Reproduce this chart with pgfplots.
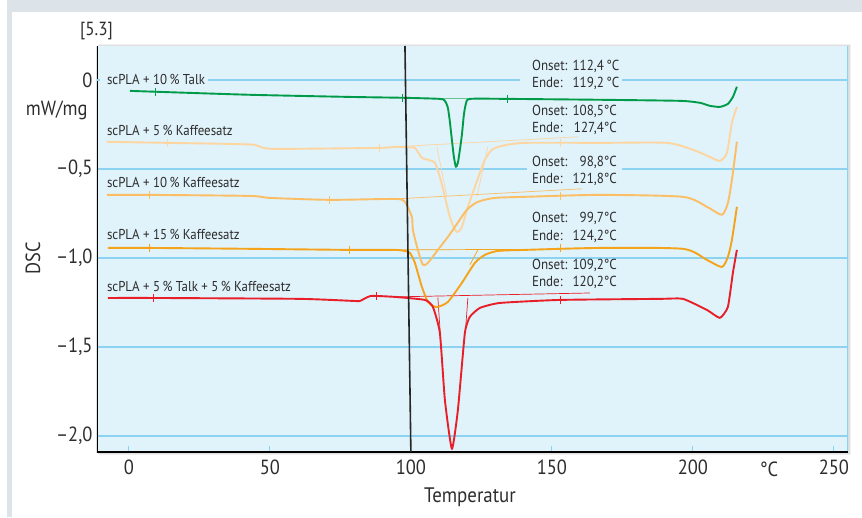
\documentclass[border=0pt]{standalone}
\usepackage{fontspec}
\setmainfont{PT Sans}[FakeStretch=0.9]
\usepackage{pgfplots}
\pgfplotsset{compat=1.18}

\definecolor{bgblue}{RGB}{224,242,250}
\definecolor{gridblue}{RGB}{140,211,242}
\definecolor{cgreen}{RGB}{0,155,72}
\definecolor{cbeige}{RGB}{253,213,160}
\definecolor{cmed}{RGB}{251,190,100}
\definecolor{corange}{RGB}{245,163,26}
\definecolor{cred}{RGB}{232,30,40}
\definecolor{txt}{RGB}{45,45,45}
\definecolor{framegray}{RGB}{220,227,233}

\newcommand{\onset}[2]{\begin{tabular}{@{}l@{\hspace{5pt}}r@{}}Onset: & #1\\ Ende: & #2\end{tabular}}

\begin{document}
\begin{tikzpicture}
\path[use as bounding box] (-97pt,-65pt) rectangle (765pt,452pt);
\fill[framegray] (-90pt,440pt) rectangle (765pt,452pt);
\fill[framegray] (-90pt,-65pt) rectangle (-85pt,440pt);
% soft shadow of the plot area
\fill[black!6] (2pt,-3pt) rectangle (754pt,408pt);
\fill[black!12] (1pt,-1.5pt) rectangle (752.5pt,407pt);
\begin{axis}[
  at={(0pt,0pt)}, anchor=south west,
  scale only axis, width=751pt, height=406pt,
  xmin=-11.3, xmax=255, ymin=-2.09, ymax=0.19,
  axis line style={draw=none},
  axis background/.style={fill=bgblue},
  xtick pos=lower, ytick pos=left,
  xtick={0,50,100,150,200,250},
  xticklabels={0,50,100,150,200,250},
  ytick={-2,-1.5,-1,-0.5,0},
  yticklabels={{–2,0},{–1,5},{–1,0},{–0,5},{0}},
  xtick style={gridblue, line width=1pt},
  ytick style={draw=none},
  tick align=inside,
  major tick length=6pt,
  ticklabel style={font=\fontsize{20.5}{22}\selectfont, text=txt},
  xticklabel style={yshift=-4pt},
  yticklabel style={xshift=-1pt},
]
% horizontal grid
\addplot[gridblue, line width=1.3pt, forget plot] coordinates {(-11.3,-0.5) (255,-0.5)};
\addplot[gridblue, line width=1.3pt, forget plot] coordinates {(-11.3,-1) (255,-1)};
\addplot[gridblue, line width=1.3pt, forget plot] coordinates {(-11.3,-1.5) (255,-1.5)};
\addplot[gridblue, line width=1.3pt, forget plot] coordinates {(-11.3,-2) (255,-2)};
% labels of the series
\node[anchor=west, inner xsep=4pt, text=txt, font=\fontsize{14.3}{16}\selectfont] at (axis cs:-9.22,0.0) {scPLA + 10\,\% Talk};
\node[anchor=west, inner xsep=4pt, text=txt, font=\fontsize{14.3}{16}\selectfont] at (axis cs:-9.22,-0.287) {scPLA + 5\,\% Kaffeesatz};
\node[anchor=west, inner xsep=4pt, text=txt, font=\fontsize{14.3}{16}\selectfont] at (axis cs:-9.22,-0.579) {scPLA + 10\,\% Kaffeesatz};
\node[anchor=west, inner xsep=4pt, text=txt, font=\fontsize{14.3}{16}\selectfont] at (axis cs:-9.22,-0.871) {scPLA + 15\,\% Kaffeesatz};
\node[anchor=west, inner xsep=4pt, text=txt, font=\fontsize{14.3}{16}\selectfont] at (axis cs:-9.22,-1.163) {scPLA + 5\,\% Talk + 5\,\% Kaffeesatz};
% onset / end blocks
\node[anchor=west, inner xsep=5pt, inner ysep=0pt, text=txt, font=\fontsize{14.5}{17.5}\selectfont] at (axis cs:141.13,0.025) {\onset{112,4\,°C}{119,2\,°C}};
\node[anchor=west, inner xsep=5pt, inner ysep=0pt, text=txt, font=\fontsize{14.5}{17.5}\selectfont] at (axis cs:141.13,-0.228) {\onset{108,5°C}{127,4°C}};
\node[anchor=west, fill=bgblue, inner xsep=5pt, inner ysep=0pt, text=txt, font=\fontsize{14.5}{17.5}\selectfont] at (axis cs:141.13,-0.514) {\onset{98,8°C}{121,8°C}};
\node[anchor=west, inner xsep=5pt, inner ysep=0pt, text=txt, font=\fontsize{14.5}{17.5}\selectfont] at (axis cs:141.13,-0.831) {\onset{99,7°C}{124,2°C}};
\node[anchor=west, inner xsep=5pt, inner ysep=0pt, text=txt, font=\fontsize{14.5}{17.5}\selectfont] at (axis cs:141.13,-1.093) {\onset{109,2°C}{120,2°C}};
% frame of the plot area
\draw[gridblue, line width=1.3pt] (rel axis cs:1,0) -- (rel axis cs:1,1);
\draw[black, line width=1.4pt] (rel axis cs:0,1) -- (rel axis cs:0,0) -- (rel axis cs:1,0);

% ---- construction lines (baselines, tangents) ----
\addplot[cgreen!60, line width=0.6pt] coordinates {(110.28,-0.101) (120.92,-0.101)};
\addplot[cbeige, line width=0.7pt] coordinates {(94.33,-0.376) (159.22,-0.320)};
\addplot[cbeige, line width=0.7pt] coordinates {(109.22,-0.376) (112.77,-0.657)};
\addplot[cbeige, line width=0.7pt] coordinates {(127.30,-0.376) (123.40,-0.657)};
\addplot[cmed, line width=0.7pt] coordinates {(94.33,-0.669) (160.64,-0.612)};
\addplot[corange, line width=0.7pt] coordinates {(94.33,-0.955) (140.43,-0.952)};
\addplot[corange, line width=0.7pt] coordinates {(123.76,-0.955) (120.92,-1.039)};
\addplot[cred, line width=0.7pt] coordinates {(94.33,-1.219) (163.48,-1.197)};
\addplot[cred, line width=0.7pt] coordinates {(109.57,-1.222) (110.4,-1.42)};
\addplot[cred, line width=0.7pt] coordinates {(120.21,-1.225) (119.3,-1.42)};

% ---- scPLA + 5 % Kaffeesatz ----
\addplot[cbeige, line width=1.9pt, line join=round, smooth, tension=0.4] coordinates {
(-7.80,-0.348) (13.83,-0.354) (35.82,-0.360) (44.68,-0.365) (47.52,-0.382) (53.55,-0.388)
(89.01,-0.382) (94.33,-0.376) (99.65,-0.379) (101.42,-0.382) (103.90,-0.438) (106.03,-0.449)
(108.51,-0.466) (110.28,-0.545) (112.06,-0.657) (113.83,-0.770) (115.60,-0.843) (116.67,-0.854)
(118.09,-0.826) (120.21,-0.713) (122.70,-0.601) (124.47,-0.522) (126.24,-0.449) (128.72,-0.393)
(132.27,-0.371) (140.43,-0.354) (167.02,-0.354) (190.78,-0.354) (200.00,-0.393) (206.03,-0.433)
(209.57,-0.455) (212.06,-0.410) (213.83,-0.242) (215.60,-0.152)
};
\addplot[cbeige, line width=0.8pt, only marks, mark=|, mark size=4pt] coordinates {
(13.83,-0.354) (89.01,-0.382) (152.84,-0.354)
};
% ---- scPLA + 10 % Kaffeesatz ----
\addplot[cmed, line width=1.9pt, line join=round, smooth, tension=0.4] coordinates {
(-7.80,-0.646) (7.45,-0.646) (42.91,-0.652) (50.00,-0.663) (71.28,-0.674) (94.33,-0.669)
(97.87,-0.685) (100.35,-0.770) (100.71,-0.843) (102.48,-0.955) (104.26,-1.039) (106.03,-1.028)
(109.57,-0.955) (113.12,-0.882) (115.60,-0.826) (119.86,-0.730) (123.76,-0.685) (129.79,-0.663)
(140.43,-0.657) (167.02,-0.646) (196.45,-0.657) (204.96,-0.713) (210.28,-0.758) (212.41,-0.691)
(213.83,-0.562) (215.60,-0.348)
};
\addplot[cmed, line width=0.8pt, only marks, mark=|, mark size=4pt] coordinates {
(7.45,-0.646) (71.28,-0.674) (152.84,-0.652)
};
% ---- scPLA + 15 % Kaffeesatz ----
\addplot[corange, line width=1.9pt, line join=round, smooth, tension=0.4] coordinates {
(-7.45,-0.944) (7.45,-0.944) (42.91,-0.949) (78.37,-0.955) (94.33,-0.955) (97.87,-0.961)
(99.65,-0.972) (101.42,-1.028) (103.90,-1.163) (106.03,-1.247) (107.80,-1.270) (109.57,-1.275)
(113.12,-1.247) (118.09,-1.140) (122.70,-1.028) (126.24,-0.983) (130.85,-0.961) (140.43,-0.955)
(167.02,-0.944) (196.45,-0.949) (204.96,-1.011) (210.28,-1.051) (212.41,-0.994) (213.83,-0.899)
(215.60,-0.713)
};
\addplot[corange, line width=0.8pt, only marks, mark=|, mark size=4pt] coordinates {
(7.45,-0.944) (78.37,-0.955) (152.84,-0.944)
};
% ---- scPLA + 5 % Talk + 5 % Kaffeesatz ----
\addplot[cred, line width=1.9pt, line join=round, smooth, tension=0.3] coordinates {
(-7.45,-1.225) (8.87,-1.225) (60.64,-1.230) (80.14,-1.242) (81.91,-1.242) (84.75,-1.219)
(86.52,-1.213) (94.33,-1.219) (104.96,-1.236) (107.80,-1.275) (110.28,-1.421) (112.06,-1.798)
(114.54,-2.073) (116.67,-1.854) (119.15,-1.421) (120.92,-1.331) (124.47,-1.281) (131.56,-1.253)
(152.84,-1.236) (188.30,-1.230) (196.45,-1.230) (204.96,-1.292) (209.57,-1.337) (212.41,-1.275)
(214.18,-1.084) (215.60,-0.955)
};
\addplot[cred, line width=0.8pt, only marks, mark=|, mark size=4pt] coordinates {
(8.87,-1.225) (87.94,-1.213) (152.84,-1.236)
};
% ---- scPLA + 10 % Talk ----
\addplot[cgreen, line width=1.9pt, line join=round, smooth, tension=0.35] coordinates {
(0.35,-0.062) (9.57,-0.067) (42.91,-0.084) (78.37,-0.096) (97.87,-0.101) (110.28,-0.107)
(112.06,-0.118) (113.12,-0.157) (113.83,-0.236) (114.54,-0.337) (115.25,-0.433) (115.96,-0.489)
(116.67,-0.466) (117.38,-0.393) (118.09,-0.309) (118.79,-0.197) (119.50,-0.135) (120.92,-0.107)
(134.40,-0.107) (167.02,-0.112) (195.39,-0.118) (202.48,-0.129) (206.03,-0.146) (209.57,-0.152)
(212.41,-0.135) (214.18,-0.096) (215.60,-0.039)
};
\addplot[cgreen, line width=0.8pt, only marks, mark=|, mark size=4pt] coordinates {
(9.57,-0.067) (97.16,-0.101) (134.40,-0.107)
};
% ---- grid line at 0, broken where the texts stand ----
\addplot[gridblue, line width=1.4pt, forget plot] coordinates {(-11.3,0) (-10.2,0)};
\addplot[gridblue, line width=1.4pt, forget plot] coordinates {(28.0,0) (138.7,0)};
\addplot[gridblue, line width=1.4pt, forget plot] coordinates {(174.8,0) (255,0)};
% ---- vertical line at about 100 °C ----
\addplot[black!85, line width=1.6pt] coordinates {(97.9,0.19) (100.0,-2.09)};
\end{axis}
\node[text=txt, font=\fontsize{19}{21}\selectfont] at (-0.5pt,421pt) {[5.3]};
\node[anchor=east, text=txt, font=\fontsize{20.5}{22}\selectfont] at (-6pt,342pt) {mW/mg};
\node[rotate=90, text=txt, font=\fontsize{20.5}{22}\selectfont] at (-64pt,194pt) {DSC};
\node[text=txt, font=\fontsize{21}{23}\selectfont] at (373pt,-45pt) {Temperatur};
\node[text=txt, font=\fontsize{20.5}{22}\selectfont] at (672pt,-17pt) {°C};
\end{tikzpicture}
\end{document}
